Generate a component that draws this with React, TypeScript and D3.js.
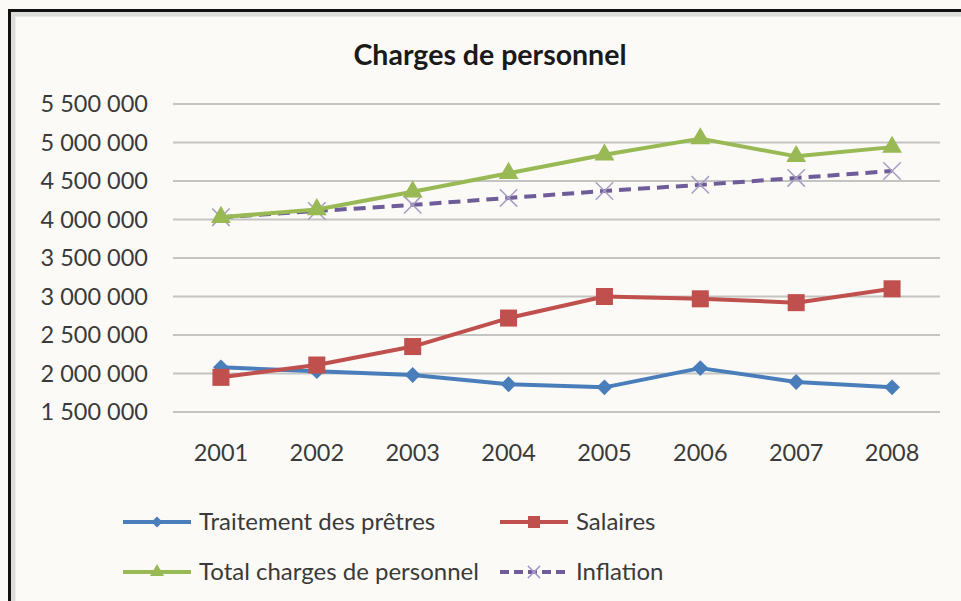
import { useEffect, useRef } from 'react'
import * as d3 from 'd3'

const years = ['2001', '2002', '2003', '2004', '2005', '2006', '2007', '2008']
const yTicks = [1500000, 2000000, 2500000, 3000000, 3500000, 4000000, 4500000, 5000000, 5500000]

const traitement = [2080000, 2030000, 1980000, 1860000, 1820000, 2070000, 1890000, 1820000]
const salaires = [1950000, 2110000, 2350000, 2720000, 3000000, 2970000, 2920000, 3100000]
const total = [4030000, 4130000, 4360000, 4600000, 4840000, 5050000, 4820000, 4940000]
const inflation = [4030000, 4110000, 4190000, 4280000, 4370000, 4450000, 4540000, 4630000]

const FONT = 'Lato, "Open Sans", sans-serif'

export default function App() {
  const svgRef = useRef<SVGSVGElement>(null)

  useEffect(() => {
    if (!svgRef.current) return
    const width = 961
    const height = 601
    const svg = d3.select(svgRef.current)
    svg.selectAll('*').remove()
    svg.attr('width', width).attr('height', height)

    svg.append('rect').attr('width', width).attr('height', height).attr('fill', '#fbfaf6')

    // frame is cropped: only left and top edges show
    svg.append('path')
      .attr('d', `M13,${height} V14 H${width}`)
      .attr('fill', 'none').attr('stroke', '#dcdcd8').attr('stroke-width', 5)
    svg.append('path')
      .attr('d', `M9.5,${height} V10.5 H${width}`)
      .attr('fill', 'none').attr('stroke', '#111').attr('stroke-width', 3)

    svg.append('text')
      .attr('x', 490).attr('y', 65)
      .attr('text-anchor', 'middle')
      .attr('font-family', FONT).attr('font-weight', 700).attr('font-size', 28.5)
      .attr('fill', '#1a1a1a')
      .text('Charges de personnel')

    const x = d3.scaleBand().domain(years).range([173, 940])
    const y = d3.scaleLinear().domain([1500000, 5500000]).range([412, 104])
    const cx = (i: number) => (x(years[i]) as number) + x.bandwidth() / 2

    const fmt = (v: number) => d3.format(',')(v).replace(/,/g, ' ')

    svg.append('g').selectAll('line').data(yTicks).join('line')
      .attr('x1', 173).attr('x2', 940)
      .attr('y1', d => y(d)).attr('y2', d => y(d))
      .attr('stroke', '#c4c4c2').attr('stroke-width', 2)

    svg.append('g').selectAll('text').data(yTicks).join('text')
      .attr('x', 148).attr('y', d => y(d) + 8)
      .attr('text-anchor', 'end')
      .attr('font-family', FONT).attr('font-size', 23.5).attr('fill', '#3a3a3a')
      .text(d => fmt(d))

    svg.append('g').selectAll('text').data(years).join('text')
      .attr('x', (d, i) => cx(i)).attr('y', 461)
      .attr('text-anchor', 'middle')
      .attr('font-family', FONT).attr('font-size', 23.5).attr('fill', '#3a3a3a')
      .text(d => d)

    const line = d3.line<number>().x((d, i) => cx(i)).y(d => y(d))

    const series = [
      { name: 'Traitement des prêtres', data: traitement, color: '#4a7ebb', type: d3.symbolDiamond2, size: 160, dash: '', fill: '#4a7ebb' },
      { name: 'Salaires', data: salaires, color: '#c0504d', type: d3.symbolSquare, size: 290, dash: '', fill: '#c0504d' },
      { name: 'Total charges de personnel', data: total, color: '#98b954', type: d3.symbolTriangle, size: 170, dash: '', fill: '#98b954' },
      { name: 'Inflation', data: inflation, color: '#6f5d99', type: d3.symbolX, size: 200, dash: '12,7', fill: 'none' },
    ]

    // draw order: blue, red, dashed inflation, then green on top
    const order = [0, 1, 3, 2]
    order.forEach(k => {
      const s = series[k]
      const sym = d3.symbol().type(s.type).size(s.size)
      const g = svg.append('g')
      g.append('path')
        .attr('d', line(s.data) as string)
        .attr('fill', 'none').attr('stroke', s.color).attr('stroke-width', 4)
        .attr('stroke-dasharray', s.dash || null)
        .attr('stroke-linejoin', 'round')
      g.selectAll('path.m').data(s.data).join('path')
        .attr('class', 'm')
        .attr('transform', (d, i) => `translate(${cx(i)},${y(d)})`)
        .attr('d', sym() as string)
        .attr('fill', s.fill)
        .attr('stroke', s.fill === 'none' ? '#a99cc4' : 'none')
        .attr('stroke-width', s.fill === 'none' ? 1.5 : 0)
    })

    // legend
    const legendPos = [
      { lx: 123, ly: 522 },
      { lx: 500, ly: 522 },
      { lx: 123, ly: 572 },
      { lx: 500, ly: 572 },
    ]
    series.forEach((s, k) => {
      const p = legendPos[k]
      const sym = d3.symbol().type(s.type).size(s.size * 0.5)
      const g = svg.append('g')
      g.append('line')
        .attr('x1', p.lx).attr('x2', p.lx + 68)
        .attr('y1', p.ly).attr('y2', p.ly)
        .attr('stroke', s.color).attr('stroke-width', 4)
        .attr('stroke-dasharray', s.dash ? '9,5' : null)
      g.append('path')
        .attr('transform', `translate(${p.lx + 34},${p.ly})`)
        .attr('d', sym() as string)
        .attr('fill', s.fill)
        .attr('stroke', s.fill === 'none' ? '#a99cc4' : 'none')
        .attr('stroke-width', 1.5)
      g.append('text')
        .attr('x', p.lx + 76).attr('y', p.ly + 8)
        .attr('font-family', FONT).attr('font-size', 24).attr('fill', '#3a3a3a')
        .text(s.name)
    })
  }, [])

  return (
    <div style={{ position: 'absolute', left: 0, top: 0 }}>
      <svg ref={svgRef} style={{ display: 'block' }} />
    </div>
  )
}
